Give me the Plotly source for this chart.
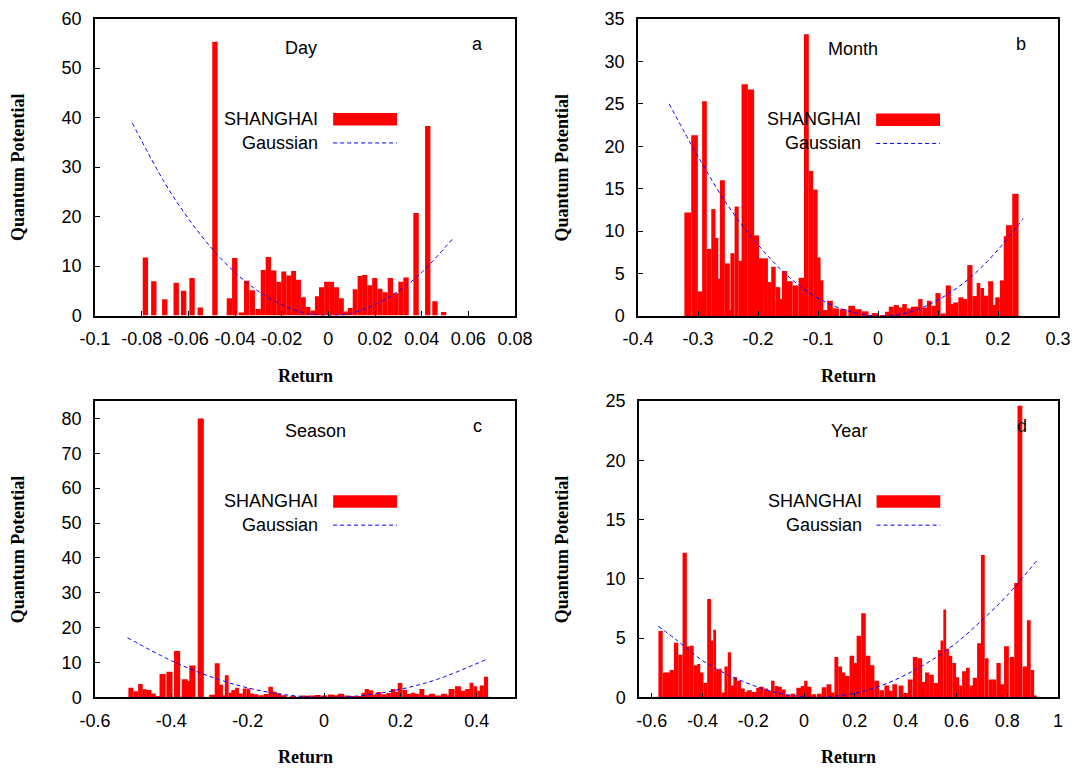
import plotly.graph_objects as go

W, H = 1087, 769

# ---------------- data: panel a (Day) ----------------
day_x = [-0.0784, -0.0748, -0.0701, -0.0652, -0.0620, -0.0584, -0.0549, -0.0486,
         -0.0424, -0.0401, -0.0373, -0.0350, -0.0326, -0.0301, -0.0279, -0.0257,
         -0.0234, -0.0212, -0.0191, -0.0170, -0.0149, -0.0128, -0.0107, -0.0087,
         -0.0067, -0.0048, -0.0029, -0.0007, 0.0014, 0.0035, 0.0056, 0.0075,
         0.0094, 0.0115, 0.0136, 0.0156, 0.0178, 0.0199, 0.0221, 0.0243,
         0.0266, 0.0289, 0.0311, 0.0333, 0.0376, 0.0426, 0.0457, 0.0494]
day_v = [11.7, 6.9, 3.3, 6.6, 5.0, 7.6, 1.6, 55.3,
         3.5, 11.6, 0.6, 7.0, 5.1, 1.3, 9.2, 11.8,
         9.1, 6.8, 8.9, 8.1, 9.0, 7.2, 3.7, 1.7,
         1.0, 3.9, 5.7, 6.8, 6.8, 5.7, 3.5, 0.8,
         1.5, 5.3, 8.0, 8.2, 6.1, 7.6, 5.4, 4.7,
         7.6, 4.5, 6.8, 7.7, 20.7, 38.3, 2.9, 0.7]
day_gx = [-0.084, -0.07, -0.06, -0.05, -0.04, -0.03, -0.02, -0.01, 0.0,
          0.01, 0.02, 0.03, 0.04, 0.054]
day_gv = [38.9, 26.7, 19.6, 13.6, 8.7, 4.9, 2.2, 0.5, 0.0,
          0.5, 2.2, 4.9, 8.7, 15.9]

# ---------------- data: panel b (Month) ----------------
month_x = [-0.3172, -0.3058, -0.2961, -0.2892, -0.2814, -0.2744, -0.2689, -0.2656,
           -0.2594, -0.2511, -0.2464, -0.2425, -0.2356, -0.2289, -0.2222, -0.2117,
           -0.2028, -0.1956, -0.1875, -0.1806, -0.1742, -0.1667, -0.1617, -0.1558,
           -0.1472, -0.1372, -0.1275, -0.1194, -0.1119, -0.1044, -0.0986, -0.0939,
           -0.0883, -0.0800, -0.0706, -0.0578, -0.0439, -0.0328, -0.0214, -0.0050,
           0.0089, 0.0153, 0.0222, 0.0306, 0.0375, 0.0442, 0.0519, 0.0578,
           0.0633, 0.0706, 0.0778, 0.0853, 0.0928, 0.1000, 0.1086, 0.1172,
           0.1236, 0.1297, 0.1381, 0.1444, 0.1531, 0.1614, 0.1675, 0.1736,
           0.1794, 0.1878, 0.1942, 0.1992, 0.2069, 0.2125, 0.2185, 0.2290]
month_v = [12.2, 21.3, 2.9, 25.3, 7.9, 12.6, 9.2, 4.4,
           16.0, 6.2, 0.7, 7.4, 12.9, 6.5, 27.3, 26.7,
           9.5, 6.8, 6.8, 4.0, 5.8, 3.4, 2.0, 5.3,
           4.1, 3.6, 4.5, 33.2, 17.1, 14.9, 6.9, 4.2,
           0.7, 1.8, 0.9, 0.8, 1.2, 0.8, 0.55, 0.35,
           0.1, 0.5, 1.1, 1.3, 1.0, 1.4, 0.9, 1.1,
           1.1, 2.0, 1.0, 1.8, 1.2, 2.7, 0.3, 3.6,
           1.4, 1.6, 2.2, 2.0, 6.0, 2.35, 3.9, 3.3,
           2.4, 4.1, 1.3, 2.2, 4.2, 9.4, 10.7, 14.4]
month_gx = [-0.348, -0.3, -0.25, -0.2, -0.15, -0.1, -0.05, 0.0, 0.05, 0.1, 0.15, 0.2, 0.242]
month_gv = [25.0, 18.8, 13.0, 8.4, 4.7, 2.1, 0.6, 0.0, 0.4, 1.9, 4.3, 7.8, 11.5]

# ---------------- data: panel c (Season) ----------------
season_x = [-0.506, -0.493, -0.481, -0.470, -0.458, -0.447, -0.435, -0.423, -0.405,
            -0.385, -0.365, -0.356, -0.345, -0.323, -0.293, -0.280, -0.270, -0.263,
            -0.255, -0.245, -0.238, -0.228, -0.218, -0.208, -0.198, -0.190, -0.179,
            -0.165, -0.152, -0.140, -0.129, -0.119, -0.106, -0.081, -0.054, -0.045,
            -0.034, -0.017, 0.000, 0.018, 0.029, 0.044, 0.061, 0.072, 0.091,
            0.105, 0.112, 0.123, 0.134, 0.144, 0.157, 0.169, 0.181, 0.188,
            0.199, 0.211, 0.222, 0.233, 0.243, 0.256, 0.268, 0.283, 0.299,
            0.314, 0.326, 0.334, 0.351, 0.363, 0.376, 0.386, 0.396, 0.406,
            0.413, 0.424]
season_v = [2.75, 1.7, 3.8, 2.3, 2.1, 1.1, 0.3, 6.7, 7.3,
            13.3, 5.2, 4.7, 9.1, 80.0, 0.7, 9.8, 3.6, 0.5,
            6.3, 1.3, 2.1, 2.75, 1.1, 2.5, 2.5, 1.1, 0.85,
            0.6, 0.95, 3.0, 1.6, 1.1, 0.6, 0.3, 0.5, 0.4,
            0.5, 0.65, 0.5, 0.8, 0.6, 1.0, 0.5, 0.3, 0.3,
            1.3, 2.4, 2.0, 0.8, 1.5, 0.9, 1.2, 2.4, 1.5,
            4.1, 2.2, 1.0, 1.3, 1.0, 2.4, 0.6, 1.0, 0.5,
            1.0, 0.5, 2.4, 3.2, 1.9, 2.4, 4.2, 3.2, 1.9,
            3.4, 5.9]
season_gx = [-0.515, -0.4, -0.3, -0.2, -0.1, 0.0, 0.1, 0.2, 0.3, 0.4275]
season_gv = [17.1, 10.5, 6.0, 2.7, 0.7, 0.0, 0.5, 2.3, 5.3, 11.0]

# ---------------- data: panel d (Year) ----------------
year_x = [-0.565, -0.548, -0.535, -0.521, -0.504, -0.487, -0.470, -0.457, -0.442,
          -0.427, -0.415, -0.403, -0.389, -0.374, -0.363, -0.352, -0.341, -0.331,
          -0.318, -0.307, -0.294, -0.282, -0.271, -0.256, -0.241, -0.228, -0.215,
          -0.196, -0.181, -0.168, -0.151, -0.136, -0.123, -0.109, -0.095, -0.080,
          -0.065, -0.044, -0.021, -0.005, 0.007, 0.020, 0.038, 0.060, 0.079,
          0.098, 0.113, 0.127, 0.142, 0.155, 0.170, 0.188, 0.203, 0.216,
          0.234, 0.252, 0.268, 0.286, 0.306, 0.326, 0.339, 0.357, 0.382,
          0.400, 0.418, 0.438, 0.456, 0.470, 0.485, 0.502, 0.520, 0.534,
          0.543, 0.554, 0.565, 0.576, 0.591, 0.604, 0.617, 0.630, 0.645,
          0.659, 0.673, 0.690, 0.704, 0.719, 0.734, 0.749, 0.766, 0.778,
          0.797, 0.819, 0.836, 0.850, 0.870, 0.885, 0.899, 0.911]
year_v = [5.6, 2.1, 2.1, 2.3, 4.6, 3.6, 12.2, 4.3, 4.35,
          2.7, 2.8, 2.1, 1.2, 8.3, 4.8, 5.7, 2.3, 2.4,
          0.4, 2.6, 3.8, 1.0, 1.7, 1.4, 0.75, 0.45, 0.6,
          0.45, 0.8, 0.9, 0.75, 0.55, 1.4, 0.95, 0.9, 0.65,
          0.2, 0.3, 0.8, 0.95, 1.4, 0.9, 0.25, 0.3, 0.85,
          1.1, 0.4, 3.4, 2.6, 2.1, 1.8, 3.5, 2.9, 5.2,
          7.1, 3.5, 2.7, 1.4, 0.6, 1.0, 0.55, 1.1, 1.0,
          0.35, 1.5, 3.4, 3.3, 1.3, 2.1, 1.9, 1.2, 4.0,
          4.8, 7.4, 4.1, 3.5, 2.9, 1.7, 1.0, 2.2, 2.5,
          1.0, 1.65, 4.55, 12.0, 3.3, 1.5, 1.5, 2.9, 1.1,
          4.3, 3.4, 9.65, 24.6, 2.6, 6.5, 2.3, 0.15]
year_gx = [-0.574, -0.5, -0.4, -0.3, -0.2, -0.1, 0.0, 0.05, 0.1, 0.2, 0.3,
           0.4, 0.5, 0.6, 0.7, 0.8, 0.919]
year_gv = [6.0, 4.8, 3.1, 1.9, 1.0, 0.35, 0.04, 0.0, 0.04, 0.34, 0.95,
           1.9, 3.1, 4.6, 6.5, 8.6, 11.6]

# ---------------- ticks ----------------
a_xticks = [-0.1, -0.08, -0.06, -0.04, -0.02, 0, 0.02, 0.04, 0.06, 0.08]
a_xlabels = ["-0.1", "-0.08", "-0.06", "-0.04", "-0.02", "0", "0.02", "0.04", "0.06", "0.08"]
a_yticks = [0, 10, 20, 30, 40, 50, 60]
b_xticks = [-0.4, -0.3, -0.2, -0.1, 0, 0.1, 0.2, 0.3]
b_xlabels = ["-0.4", "-0.3", "-0.2", "-0.1", "0", "0.1", "0.2", "0.3"]
b_yticks = [0, 5, 10, 15, 20, 25, 30, 35]
c_xticks = [-0.6, -0.4, -0.2, 0, 0.2, 0.4]
c_xlabels = ["-0.6", "-0.4", "-0.2", "0", "0.2", "0.4"]
c_yticks = [0, 10, 20, 30, 40, 50, 60, 70, 80]
d_xticks = [-0.6, -0.4, -0.2, 0, 0.2, 0.4, 0.6, 0.8, 1.0]
d_xlabels = ["-0.6", "-0.4", "-0.2", "0", "0.2", "0.4", "0.6", "0.8", "1"]
d_yticks = [0, 5, 10, 15, 20, 25]

panel_titles = ["Day", "Month", "Season", "Year"]
panel_letters = ["a", "b", "c", "d"]
series_name = "SHANGHAI"
fit_name = "Gaussian"
x_title = "Return"
y_title = "Quantum Potential"


def bar_widths(xs, maxw):
    out = []
    n = len(xs)
    for i in range(n):
        c = []
        if i > 0:
            c.append(xs[i] - xs[i - 1])
        if i < n - 1:
            c.append(xs[i + 1] - xs[i])
        out.append(min(maxw, max(c)))
    return out


# frames in pixels: (left, right, top, bottom)
frames = [(95, 515, 18.5, 315.5), (638, 1058, 19, 316),
          (95, 515, 401, 697.3), (639, 1058, 401, 697.3)]
xranges = [[-0.1, 0.08], [-0.4, 0.3], [-0.6, 0.5], [-0.65, 1.0]]
yranges = [[0, 60], [0, 35], [0, 85], [0, 25]]
xticks = [(a_xticks, a_xlabels), (b_xticks, b_xlabels), (c_xticks, c_xlabels), (d_xticks, d_xlabels)]
yticks = [a_yticks, b_yticks, c_yticks, d_yticks]
bars = [(day_x, day_v, 0.0023), (month_x, month_v, 0.011),
        (season_x, season_v, 0.016), (year_x, year_v, 0.019)]
gauss = [(day_gx, day_gv), (month_gx, month_gv), (season_gx, season_gv), (year_gx, year_gv)]
title_pos = [(0.49, 0.90), (0.513, 0.90), (0.526, 0.90), (0.50, 0.90)]
letter_pos = [(0.91, 0.915), (0.913, 0.915), (0.91, 0.915), (0.913, 0.915)]

fig = go.Figure()
layout = dict(template="none", width=W, height=H, margin=dict(l=0, r=0, t=0, b=0, autoexpand=False),
              paper_bgcolor="white", plot_bgcolor="white", showlegend=False,
              barmode="overlay")
annotations = []
shapes = []

tickfont = dict(family="Liberation Sans, Arial, sans-serif", size=18, color="black")
labfont = dict(family="Liberation Serif, Times New Roman, serif", size=18, color="black")
textfont = dict(family="Liberation Sans, Arial, sans-serif", size=18, color="black")

for i in range(4):
    n = "" if i == 0 else str(i + 1)
    L, R, T, B = frames[i]
    xd = [L / W, R / W]
    yd = [1 - B / H, 1 - T / H]
    xs, vs, mw = bars[i]
    fig.add_trace(go.Bar(x=xs, y=vs, width=bar_widths(xs, mw),
                         marker=dict(color="#ff0000", line=dict(width=0)),
                         xaxis="x" + n, yaxis="y" + n, name=series_name))
    gx, gv = gauss[i]
    fig.add_trace(go.Scatter(x=gx, y=gv, mode="lines",
                             line=dict(color="#0000ff", width=1, dash="4px,3px", shape="spline"),
                             xaxis="x" + n, yaxis="y" + n, name=fit_name))
    common = dict(showline=True, linecolor="black", linewidth=1.5, mirror=True,
                  ticks="inside", ticklen=5, tickwidth=1, tickcolor="black",
                  showgrid=False, zeroline=False, tickfont=tickfont, tickangle=0,
                  automargin=False)
    layout["xaxis" + n] = dict(common, domain=xd, range=xranges[i], anchor="y" + n,
                               tickmode="array", tickvals=xticks[i][0], ticktext=xticks[i][1],
                               ticklabelstandoff=6)
    layout["yaxis" + n] = dict(common, domain=yd, range=yranges[i], anchor="x" + n,
                               tickmode="array", tickvals=yticks[i],
                               ticktext=[str(v) for v in yticks[i]],
                               ticklabelstandoff=8)
    xr = "x" + n + " domain"
    yr = "y" + n + " domain"
    # panel title and letter
    annotations.append(dict(text=panel_titles[i], x=title_pos[i][0], y=title_pos[i][1],
                            xref=xr, yref=yr, showarrow=False, font=textfont,
                            xanchor="center", yanchor="middle"))
    annotations.append(dict(text=panel_letters[i], x=letter_pos[i][0], y=letter_pos[i][1],
                            xref=xr, yref=yr, showarrow=False, font=textfont,
                            xanchor="center", yanchor="middle"))
    # legend
    annotations.append(dict(text=series_name, x=0.536, y=0.662, xref=xr, yref=yr,
                            showarrow=False, font=textfont, xanchor="right", yanchor="middle"))
    annotations.append(dict(text=fit_name, x=0.536, y=0.581, xref=xr, yref=yr,
                            showarrow=False, font=textfont, xanchor="right", yanchor="middle"))
    shapes.append(dict(type="rect", xref=xr, yref=yr, x0=0.567, x1=0.719, y0=0.640, y1=0.682,
                       fillcolor="#ff0000", line=dict(width=0)))
    shapes.append(dict(type="line", xref=xr, yref=yr, x0=0.567, x1=0.719, y0=0.581, y1=0.581,
                       line=dict(color="#0000ff", width=1, dash="4px,3px")))
    # axis titles
    annotations.append(dict(text="<b>" + x_title + "</b>", x=(L + R) / 2 / W, y=1 - (B + 60) / H,
                            xref="paper", yref="paper", showarrow=False, font=labfont,
                            xanchor="center", yanchor="middle"))
    annotations.append(dict(text="<b>" + y_title + "</b>", x=(L - 77) / W, y=1 - (T + B) / 2 / H,
                            xref="paper", yref="paper", showarrow=False, font=labfont,
                            textangle=-90, xanchor="center", yanchor="middle"))

layout["annotations"] = annotations
layout["shapes"] = shapes
fig.update_layout(**layout)
fig.write_html("out.html")
